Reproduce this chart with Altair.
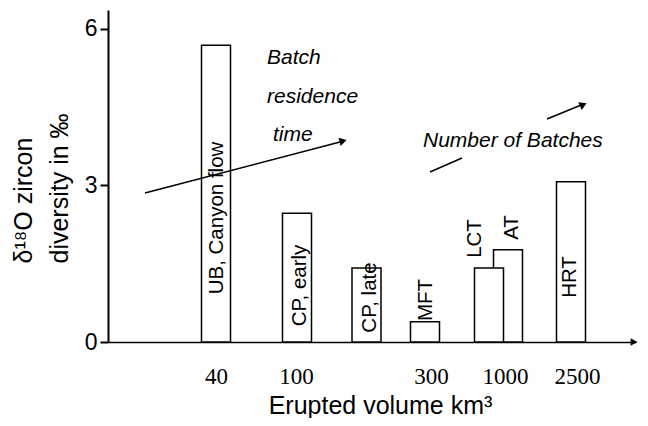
import altair as alt
import pandas as pd

# ---- data ----
bar_names = ["UB, Canyon flow", "CP, early", "CP, late", "MFT", "AT", "LCT", "HRT"]
bar_pos = [108, 189, 258.5, 317, 400, 381, 463]
bar_values = [5.69, 2.47, 1.42, 0.39, 1.77, 1.42, 3.07]

label_x = [109, 192, 262, 317.5, 403.5, 367, 461.5]
label_y = [2.377, 1.083, 0.853, 0.805, 2.195, 1.984, 1.246]

tick_pos = [108, 188, 323, 397, 469]
tick_labels = ["40", "100", "300", "1000", "2500"]
y_ticks = [0, 3, 6]

note_text = ["Batch", "residence", "time", "Number of Batches"]
note_x = [159, 159, 165, 315]
note_y = [5.329, 4.581, 3.853, 3.744]

seg_x1 = [37, 322, 439]
seg_y1 = [2.856, 3.259, 4.274]
seg_x2 = [232, 354, 472]
seg_y2 = [3.834, 3.527, 4.533]

head1_x, head1_y = [235.1], [3.853]
head2_x, head2_y = [475.3], [4.550]
axis_head_x, axis_head_y = [526], [0]

XMAX = 528
YMAX = 6.364

bars = pd.DataFrame({"name": bar_names, "pos": bar_pos, "value": bar_values})
labels = pd.DataFrame({"name": bar_names, "x": label_x, "y": label_y})
notes = pd.DataFrame({"text": note_text, "x": note_x, "y": note_y})
segs = pd.DataFrame({"x1": seg_x1, "y1": seg_y1, "x2": seg_x2, "y2": seg_y2})

xs = alt.Scale(domain=[0, XMAX], nice=False, zero=False, padding=0)
ys = alt.Scale(domain=[0, YMAX], nice=False, zero=False, padding=0)

label_expr = "[" + ",".join("'%s'" % t for t in tick_labels) + "][indexof([" + \
    ",".join(str(p) for p in tick_pos) + "], datum.value)]"

bar_layer = alt.Chart(bars).mark_bar(
    fill="white", stroke="black", strokeWidth=1.5, size=29, orient="vertical"
).encode(
    x=alt.X("pos:Q", scale=xs, axis=alt.Axis(
        values=tick_pos, labelExpr=label_expr, ticks=False, tickSize=0, grid=False,
        domainColor="black", domainWidth=1.5,
        labelFont="Liberation Serif", labelFontSize=23, labelColor="black",
        labelPadding=34, labelBaseline="middle", labelFlush=False, labelOverlap=False,
        title="Erupted volume km³", titleFont="Liberation Sans", titleFontSize=25,
        titleFontWeight="normal", titleColor="black", titleX=272, titleY=71,
        titleAlign="center", titleBaseline="alphabetic")),
    y=alt.Y("value:Q", scale=ys, stack=None, axis=alt.Axis(
        values=y_ticks, grid=False, tickSize=8, tickWidth=2, tickColor="black",
        domainColor="black", domainWidth=2,
        labelFont="Liberation Sans", labelFontSize=23, labelColor="black",
        labelPadding=3, labelFlush=False,
        title=["δ¹⁸O zircon", "diversity in ‰"], titleFont="Liberation Sans",
        titleFontSize=25, titleFontWeight="normal", titleColor="black",
        titleAngle=270, titleAlign="left", titleBaseline="alphabetic",
        titleX=-77, titleY=253, titleLineHeight=36)),
)

label_layer = alt.Chart(labels).mark_text(
    angle=270, align="center", baseline="middle", font="Liberation Sans",
    fontSize=20.5, color="black"
).encode(
    x=alt.X("x:Q", scale=xs, axis=None),
    y=alt.Y("y:Q", scale=ys, axis=None),
    text="name:N",
)

note_layer = alt.Chart(notes).mark_text(
    align="left", baseline="alphabetic", font="Liberation Sans", fontSize=21,
    fontStyle="italic", color="black"
).encode(
    x=alt.X("x:Q", scale=xs, axis=None),
    y=alt.Y("y:Q", scale=ys, axis=None),
    text="text:N",
)

seg_layer = alt.Chart(segs).mark_rule(color="black", strokeWidth=1.5).encode(
    x=alt.X("x1:Q", scale=xs, axis=None),
    y=alt.Y("y1:Q", scale=ys, axis=None),
    x2="x2:Q",
    y2="y2:Q",
)

def head(xv, yv, ang, size):
    df = pd.DataFrame({"x": xv, "y": yv})
    return alt.Chart(df).mark_point(
        shape="triangle-right", filled=True, color="black", size=size,
        angle=ang, opacity=1
    ).encode(
        x=alt.X("x:Q", scale=xs, axis=None),
        y=alt.Y("y:Q", scale=ys, axis=None),
    )

chart = alt.layer(
    bar_layer, seg_layer, label_layer, note_layer,
    head(head1_x, head1_y, 345.3, 70),
    head(head2_x, head2_y, 336.3, 70),
    head(axis_head_x, axis_head_y, 0, 60),
).resolve_axis(
    x="independent", y="independent"
).properties(
    width=XMAX, height=332,
    padding={"left": 100, "top": 2, "right": 4, "bottom": 76},
    autosize=alt.AutoSizeParams(type="none"),
    background="white",
).configure_view(stroke=None)

chart.save("out.html", embed_options={"renderer": "svg", "actions": False})
